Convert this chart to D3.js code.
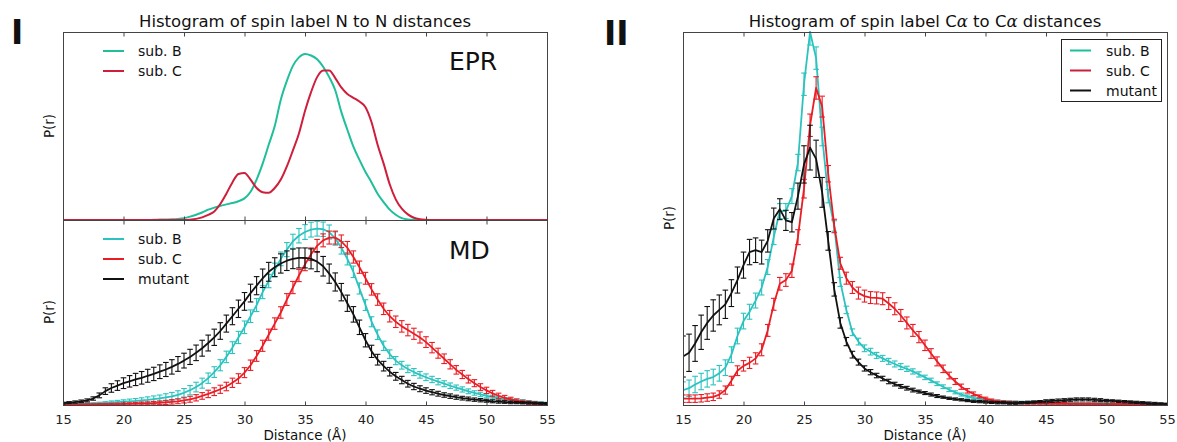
<!DOCTYPE html>
<html><head><meta charset="utf-8">
<script src="https://cdn.jsdelivr.net/npm/d3@7"></script>
<style>
body{margin:0;background:#fff}
svg{display:block}
text{font-family:"DejaVu Sans",sans-serif;fill:#111}
</style>
</head><body>
<svg id="c" width="1177" height="442"></svg>
<script>
// ---------------- DATA ----------------
const distances = [15,15.5,16,16.5,17,17.5,18,18.5,19,19.5,20,20.5,21,21.5,22,22.5,23,23.5,24,24.5,25,25.5,26,26.5,27,27.5,28,28.5,29,29.5,30,30.5,31,31.5,32,32.5,33,33.5,34,34.5,35,35.5,36,36.5,37,37.5,38,38.5,39,39.5,40,40.5,41,41.5,42,42.5,43,43.5,44,44.5,45,45.5,46,46.5,47,47.5,48,48.5,49,49.5,50,50.5,51,51.5,52,52.5,53,53.5,54,54.5,55];
const xTicks = [15,20,25,30,35,40,45,50,55];
const seriesNames = ["sub. B","sub. C","mutant"];

// Panel I, EPR
const eprSubB = [0,0,0,0,0,0,0,0,0,0,0,0,0,0,0,
  .001,.002,.003,.004,.006,.010,.018,.028,.040,.055,.066,.075,.083,.090,.100,.115,.150,.215,.300,.40,.50,.64,.74,.82,.865,.883,.875,.855,.815,.76,.69,.575,.48,.39,.32,.255,.20,.14,.095,.055,.028,.010,.003,.001,
  0,0,0,0,0,0,0,0,0,0,0,0,0,0,0,0,0,0,0,0,0,0];
const eprSubC = [0,0,0,0,0,0,0,0,0,0,0,0,0,0,0,0,0,0,0,0,0,
  .002,.006,.014,.027,.045,.085,.14,.20,.245,.25,.215,.17,.148,.145,.17,.215,.285,.37,.46,.58,.68,.76,.795,.795,.755,.705,.67,.65,.63,.60,.52,.40,.30,.19,.11,.06,.030,.012,.004,.001,
  0,0,0,0,0,0,0,0,0,0,0,0,0,0,0,0,0,0,0,0];

// Panel I, MD
const mdSubB = [.003,.004,.005,.006,.007,.008,.010,.012,.014,.016,
  .018,.020,.022,.025,.028,.032,.036,.041,.047,.055,
  .066,.080,.097,.118,.145,.178,.215,.26,.31,.365,
  .42,.48,.54,.61,.67,.73,.79,.84,.885,.915,
  .935,.948,.953,.95,.935,.90,.85,.79,.72,.63,
  .54,.45,.38,.32,.275,.24,.215,.195,.178,.163,
  .150,.138,.126,.115,.104,.094,.084,.074,.065,.057,
  .050,.043,.037,.032,.027,.023,.020,.017,.014,.012,.010];
const mdSubC = [.001,.001,.002,.002,.003,.003,.004,.004,.005,.005,
  .006,.006,.007,.008,.009,.010,.012,.014,.017,.020,
  .025,.031,.039,.049,.060,.072,.085,.10,.12,.143,
  .175,.215,.265,.32,.38,.44,.50,.57,.635,.70,
  .76,.815,.86,.89,.905,.905,.885,.85,.80,.745,
  .685,.625,.57,.52,.48,.45,.425,.405,.385,.365,
  .34,.31,.28,.25,.22,.19,.165,.14,.118,.097,
  .079,.063,.050,.039,.030,.023,.017,.013,.010,.008,.006];
const mdMutant = [.010,.013,.016,.020,.025,.035,.052,.075,.092,.105,
  .118,.128,.138,.147,.158,.168,.180,.192,.206,.222,
  .240,.260,.282,.307,.335,.366,.40,.44,.48,.52,
  .56,.605,.645,.685,.72,.745,.765,.78,.79,.795,
  .795,.79,.775,.75,.71,.665,.61,.55,.49,.42,
  .35,.29,.245,.21,.18,.155,.135,.115,.10,.088,
  .078,.069,.061,.054,.048,.042,.037,.033,.029,.026,
  .023,.020,.018,.016,.014,.013,.012,.011,.010,.009,.008];
const mdErrB = [.004,.004,.004,.004,.004,.004,.005,.006,.008,.009,
  .010,.012,.013,.014,.016,.017,.018,.020,.021,.022,
  .023,.025,.026,.027,.028,.029,.030,.031,.032,.033,
  .034,.034,.035,.035,.036,.037,.037,.038,.038,.039,
  .040,.040,.040,.039,.038,.036,.034,.033,.031,.030,
  .029,.027,.026,.025,.023,.022,.021,.020,.019,.018,
  .018,.017,.017,.016,.015,.014,.014,.013,.012,.012,
  .011,.010,.010,.009,.009,.008,.008,.007,.006,.005,.005];
const mdErrC = [.003,.003,.003,.003,.003,.003,.004,.004,.004,.005,
  .005,.006,.007,.008,.008,.009,.010,.011,.012,.013,
  .014,.016,.017,.018,.020,.021,.022,.023,.025,.026,
  .027,.028,.029,.030,.030,.031,.031,.032,.033,.033,
  .034,.034,.035,.035,.035,.035,.034,.034,.033,.033,
  .032,.031,.031,.031,.031,.031,.031,.031,.030,.030,
  .029,.028,.027,.026,.025,.023,.022,.021,.019,.018,
  .017,.016,.014,.013,.012,.010,.009,.008,.007,.006,.005];
const mdErrMutant = [.005,.005,.006,.007,.008,.009,.013,.018,.023,.026,
  .029,.031,.033,.034,.035,.036,.037,.038,.039,.040,
  .040,.041,.042,.043,.043,.044,.045,.046,.046,.047,
  .048,.048,.049,.050,.051,.051,.052,.053,.053,.054,
  .054,.054,.054,.053,.052,.049,.047,.044,.042,.039,
  .036,.033,.029,.026,.023,.021,.020,.018,.017,.016,
  .015,.014,.013,.012,.012,.011,.010,.010,.009,.009,
  .008,.008,.008,.007,.007,.006,.006,.006,.005,.005,.005];

// Panel II, C-alpha distances
const caSubB = [.040,.045,.055,.063,.070,.075,.085,.100,.135,.185,
  .225,.250,.280,.315,.370,.450,.520,.520,.560,.650,
  .860,1.0,.930,.720,.560,.480,.330,.255,.195,.170,
  .152,.143,.133,.125,.117,.110,.103,.097,.090,.082,
  .074,.066,.057,.049,.041,.034,.028,.023,.019,.016,
  .013,.011,.010,.009,.008,.008,.007,.007,.007,.006,
  .006,.006,.005,.005,.005,.005,.004,.004,.004,.004,
  .004,.003,.003,.003,.003,.003,.002,.002,.002,.002,.002];
const caSubC = [.017,.017,.017,.018,.020,.022,.028,.040,.065,.092,
  .105,.113,.125,.148,.200,.270,.325,.335,.360,.450,
  .580,.750,.850,.800,.620,.480,.380,.340,.315,.300,
  .292,.288,.287,.285,.272,.258,.240,.220,.200,.182,
  .160,.138,.117,.097,.079,.063,.049,.038,.030,.023,
  .017,.013,.010,.008,.007,.006,.006,.005,.005,.005,
  .004,.004,.004,.004,.003,.003,.003,.003,.003,.002,
  .002,.002,.002,.002,.002,.002,.001,.001,.001,.001,.001];
const caMutant = [.130,.140,.165,.195,.220,.240,.255,.270,.300,.335,
  .375,.410,.415,.410,.440,.500,.525,.495,.490,.560,
  .645,.690,.660,.570,.440,.310,.220,.170,.135,.115,
  .098,.088,.079,.071,.063,.056,.050,.045,.040,.036,
  .032,.028,.024,.021,.018,.016,.014,.012,.010,.009,
  .008,.007,.006,.006,.005,.005,.006,.007,.008,.009,
  .010,.011,.012,.013,.014,.015,.015,.015,.014,.013,
  .012,.011,.010,.009,.008,.007,.006,.005,.004,.003,.003];
const caErrB = [.022,.022,.022,.022,.022,.021,.021,.021,.021,.021,
  .021,.020,.020,.020,.020,.020,.020,.020,.020,.022,
  .030,.035,.030,.025,.018,.014,.012,.010,.009,.009,
  .009,.009,.008,.008,.008,.008,.008,.007,.007,.007,
  .006,.006,.005,.005,.005,.004,.004,.004,.003,.003,
  .003,.003,.003,.003,.003,.003,.003,.003,.003,.003,
  .002,.002,.002,.002,.002,.002,.002,.002,.002,.002,
  .002,.002,.002,.002,.002,.002,.002,.002,.002,.002,.002];
const caErrC = [.010,.010,.010,.010,.010,.010,.010,.011,.012,.013,
  .014,.015,.015,.016,.016,.016,.017,.017,.018,.020,
  .025,.030,.030,.028,.022,.018,.016,.016,.016,.016,
  .016,.016,.016,.016,.016,.016,.016,.016,.016,.015,
  .014,.013,.012,.010,.009,.008,.007,.006,.005,.004,
  .004,.003,.003,.003,.003,.003,.003,.003,.003,.003,
  .002,.002,.002,.002,.002,.002,.002,.002,.002,.002,
  .002,.002,.002,.002,.002,.002,.002,.002,.002,.002,.002];
const caErrMutant = [.055,.050,.048,.046,.044,.042,.040,.038,.036,.035,
  .035,.034,.033,.032,.030,.028,.028,.027,.026,.035,
  .050,.060,.050,.040,.025,.018,.014,.011,.009,.008,
  .007,.007,.006,.006,.006,.005,.005,.005,.005,.004,
  .004,.004,.004,.003,.003,.003,.003,.003,.003,.003,
  .003,.003,.003,.003,.003,.003,.003,.003,.003,.003,
  .004,.004,.004,.004,.004,.004,.004,.004,.004,.004,
  .003,.003,.003,.003,.003,.003,.003,.003,.003,.003,.002];

// ---------------- STYLE ----------------
const cEprB = "#1fbf9c", cEprC = "#cf1e3b";
const cB = "#2bc3bf", cC = "#ea1d25", cM = "#111111";

// ---------------- DRAW ----------------
const svg = d3.select("#c");
const xL = d3.scaleLinear().domain([15,55]).range([63,547]);
const xR = d3.scaleLinear().domain([15,55]).range([683,1167]);
const yEPR = d3.scaleLinear().domain([0,1]).range([220,32]);
const yMD = d3.scaleLinear().domain([0,1]).range([405,220]);
const yR = d3.scaleLinear().domain([0,1]).range([405,32]);

const defs = svg.append("defs");
function clip(id, x, y, w, h){
  defs.append("clipPath").attr("id", id).append("rect").attr("x", x).attr("y", y).attr("width", w).attr("height", h);
}
clip("cEpr", 63, 31, 484, 190);
clip("cMd", 63, 219, 484, 187);
clip("cR", 683, 31, 484, 375);

function smoothLine(g, x, y, vals, color, w){
  const line = d3.line().x((d,i)=>x(distances[i])).y(d=>y(d)).curve(d3.curveMonotoneX);
  g.append("path").attr("d", line(vals)).attr("fill","none").attr("stroke",color).attr("stroke-width",w).attr("stroke-linejoin","round");
}
function errSeries(g, x, y, vals, errs, color, w){
  const line = d3.line().x((d,i)=>x(distances[i])).y(d=>y(d));
  const eg = g.append("g").attr("stroke", color).attr("stroke-width", 1.1).attr("fill","none");
  vals.forEach((v,i)=>{
    const px = x(distances[i]);
    const y1 = y(v + errs[i]), y2 = y(Math.max(0, v - errs[i]));
    eg.append("line").attr("x1",px).attr("x2",px).attr("y1",y1).attr("y2",y2);
    eg.append("line").attr("x1",px-2.8).attr("x2",px+2.8).attr("y1",y1).attr("y2",y1);
    eg.append("line").attr("x1",px-2.8).attr("x2",px+2.8).attr("y1",y2).attr("y2",y2);
  });
  g.append("path").attr("d", line(vals)).attr("fill","none").attr("stroke",color).attr("stroke-width",w).attr("stroke-linejoin","round");
}

// Panel I EPR
const gE = svg.append("g").attr("clip-path","url(#cEpr)");
smoothLine(gE, xL, yEPR, eprSubB, cEprB, 2);
smoothLine(gE, xL, yEPR, eprSubC, cEprC, 2);

// Panel I MD
const gM = svg.append("g").attr("clip-path","url(#cMd)");
errSeries(gM, xL, yMD, mdSubB, mdErrB, cB, 1.8);
errSeries(gM, xL, yMD, mdSubC, mdErrC, cC, 1.8);
errSeries(gM, xL, yMD, mdMutant, mdErrMutant, cM, 1.8);

// Panel II
const gR = svg.append("g").attr("clip-path","url(#cR)");
errSeries(gR, xR, yR, caSubB, caErrB, cB, 1.8);
errSeries(gR, xR, yR, caSubC, caErrC, cC, 1.8);
errSeries(gR, xR, yR, caMutant, caErrMutant, cM, 1.8);

// frames
function frame(x0,y0,x1,y1){
  svg.append("rect").attr("x",x0+0.5).attr("y",y0+0.5).attr("width",x1-x0).attr("height",y1-y0)
    .attr("fill","none").attr("stroke","#444").attr("stroke-width",1);
}
frame(63,32,547,220);
frame(63,220,547,405);
frame(683,32,1167,405);

// axes ticks
function ticksAt(x, yPos, dir, labels){
  const ax = (dir === "bottom" ? d3.axisBottom(x) : d3.axisTop(x))
    .tickValues(xTicks).tickSizeInner(-4).tickSizeOuter(0).tickPadding(9);
  if(!labels) ax.tickFormat(()=> "");
  const g = svg.append("g").attr("transform",`translate(0,${yPos+0.5})`).call(ax);
  g.select(".domain").remove();
  g.selectAll("line").attr("stroke","#444");
  g.selectAll("text").attr("font-size",13).attr("font-family","DejaVu Sans").style("fill","#222");
  return g;
}
ticksAt(xL, 220, "bottom", false);
ticksAt(xL, 32, "top", false);
ticksAt(xL, 220, "top", false);
ticksAt(xL, 405, "bottom", true);
ticksAt(xR, 32, "top", false);
ticksAt(xR, 405, "bottom", true);

// titles
svg.append("text").attr("x",305).attr("y",27).attr("text-anchor","middle").attr("font-size",16.5)
  .text("Histogram of spin label N to N distances");
const t2 = svg.append("text").attr("x",925).attr("y",27).attr("text-anchor","middle").attr("font-size",16.5);
t2.append("tspan").text("Histogram of spin label C");
t2.append("tspan").attr("font-style","italic").attr("font-family","DejaVu Serif").text("α");
t2.append("tspan").text(" to C");
t2.append("tspan").attr("font-style","italic").attr("font-family","DejaVu Serif").text("α");
t2.append("tspan").text(" distances");

// panel labels
svg.append("text").attr("x",11).attr("y",44).attr("font-family","Liberation Sans").attr("font-weight","bold").attr("font-size",33).text("I");
svg.append("text").attr("x",604).attr("y",45).attr("font-family","Liberation Sans").attr("font-weight","bold").attr("font-size",33).text("II");

// EPR / MD
svg.append("text").attr("x",449).attr("y",70).attr("font-size",25).text("EPR");
svg.append("text").attr("x",449).attr("y",259).attr("font-size",25).text("MD");

// axis labels
svg.append("text").attr("x",305).attr("y",440).attr("text-anchor","middle").attr("font-size",13.5).text("Distance (Å)");
svg.append("text").attr("x",925).attr("y",440).attr("text-anchor","middle").attr("font-size",13.5).text("Distance (Å)");
[[54,126],[54,312],[674,218]].forEach(p=>{
  svg.append("text").attr("transform",`translate(${p[0]},${p[1]}) rotate(-90)`).attr("text-anchor","middle").attr("font-size",13.5).text("P(r)");
});

// legends
function legend(x0, y0, names, colors, tx){
  names.forEach((n,i)=>{
    const y = y0 + i*20;
    svg.append("line").attr("x1",x0).attr("x2",x0+21).attr("y1",y).attr("y2",y).attr("stroke",colors[i]).attr("stroke-width",2);
    svg.append("text").attr("x",tx).attr("y",y+5).attr("font-size",14).text(n);
  });
}
legend(103, 51, seriesNames.slice(0,2), [cEprB, cEprC], 138);
legend(103, 239, seriesNames, [cB, cC, cM], 138);
svg.append("rect").attr("x",1061.5).attr("y",39.5).attr("width",100).attr("height",62).attr("fill","#fff").attr("stroke","#222").attr("stroke-width",1);
legend(1070, 50.5, seriesNames, [cEprB, "#c8203a", cM], 1106);
</script>
</body></html>
